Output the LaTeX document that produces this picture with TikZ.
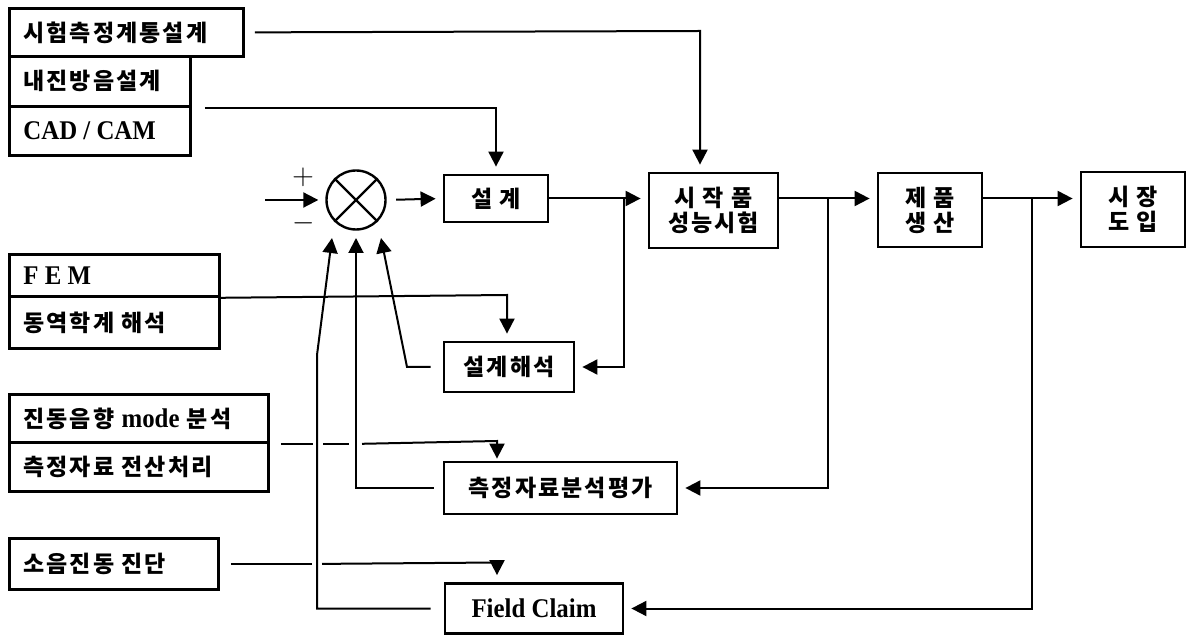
\documentclass[tikz,border=0pt]{standalone}
\usepackage{fontspec}
\setmainfont{Liberation Serif}
\newfontfamily\kr[LetterSpace=9]{Noto Sans CJK KR}
\newfontfamily\lat[FakeStretch=0.92]{Liberation Serif}
\usetikzlibrary{arrows.meta,calc}
\tikzset{
  every node/.style={inner sep=0pt},
  krfont/.style={font={\kr\bfseries\fontsize{11.5}{13.5}\selectfont}},
  lbox/.style={draw, line width=1.4pt, anchor=north west, inner xsep=7pt, krfont},
  mbox/.style={draw, line width=1.4pt, align=center, krfont},
  ln/.style={line width=1pt},
  arr/.style={line width=1pt, -{Triangle[length=7.5pt,width=7.5pt]}, shorten >=3.5pt},
  arrt/.style={line width=1pt, -{Triangle[length=7.5pt,width=7.5pt]}},
}
\newcommand{\latb}[1]{{\lat\bfseries\fontsize{13.5}{14}\selectfont #1}}
\begin{document}
\begin{tikzpicture}[x=0.5pt,y=-0.5pt]
\useasboundingbox (0,0) rectangle (1187,635);
\fill[white] (0,0) rectangle (1187,635);

% left input boxes
\node[lbox, minimum height=24pt]   (A) at (8,7)   {\makebox[103pt][l]{시험측정계통설계}};
\node[lbox, minimum height=25pt]   (B) at (8,55)  {\makebox[76.5pt][l]{내진방음설계}};
\node[lbox, minimum height=24.5pt] (C) at (8,105) {\makebox[76.5pt][l]{\latb{CAD / CAM}}};
\node[lbox, minimum height=21pt]   (F) at (8,253) {\makebox[91pt][l]{\latb{F E M}}};
\node[lbox, minimum height=26pt]   (D) at (8,295) {\makebox[91pt][l]{동역학계 해석}};
\node[lbox, minimum height=24pt]   (V) at (8,393) {\makebox[115.5pt][l]{진동음향 \latb{mode} 분석}};
\node[lbox, minimum height=24.5pt] (M) at (8,441) {\makebox[115.5pt][l]{측정자료 전산처리}};
\node[lbox, minimum height=25.5pt] (S) at (8,537) {\makebox[90.5pt][l]{소음진동 진단}};

% summing junction
\node[draw, circle, line width=1.2pt, minimum size=29.5pt] (sum) at (356,200) {};
\draw[line width=1.1pt] (sum.north west) -- (sum.south east);
\draw[line width=1.1pt] (sum.north east) -- (sum.south west);
\node[font=\fontsize{14}{14}\selectfont] (plus) at (303,177) {$+$};
\node[font=\fontsize{14}{14}\selectfont] (minus) at (304,223) {$-$};
\coordinate (in) at (265,200);

% main boxes
\node[mbox, minimum width=52pt, minimum height=23.5pt] (sg) at (496,198.5) {설 계};
\node[mbox, minimum width=64.5pt, minimum height=37.5pt] (sj) at (713.5,210.5) {시 작 품\\[-1pt]성능시험};
\node[mbox, minimum width=52pt, minimum height=37pt] (jp) at (930,210) {제 품\\[-1pt]생 산};
\node[mbox, minimum width=52pt, minimum height=37.5pt] (sd) at (1133,209.5) {시 장\\[-1pt]도 입};
\node[mbox, minimum width=65pt, minimum height=25pt] (sh) at (509,367) {설계해석};
\node[mbox, minimum width=116.5pt, minimum height=26pt] (cj) at (560.5,488) {측정자료분석평가};
\node[mbox, minimum width=89pt, minimum height=25pt] (fc) at (534,608.5) {\latb{Field Claim}};

% junction and bend coordinates
\coordinate (j1) at (624,198.5);
\coordinate (j2) at (828,198.5);
\coordinate (j3) at (1032,198.5);
\coordinate (a1) at (700,31);
\coordinate (b1) at (507,295);
\coordinate (v1) at (497,441);
\coordinate (s1) at (497,562.5);
\coordinate (k1) at (407,367);
\coordinate (k3) at (317,355);
\coordinate (tL) at (332,238);
\coordinate (tM) at (356,238);
\coordinate (tR) at (381,238);

% forward path
\draw[arr] (in) -- (sum.west);
\draw[arr, shorten <=4.75pt] (sum.east) -- (sg.west);
\draw[arr] (sg.east) -- (sg.east -| sj.west);
\draw[arr] (sj.east |- sg.east) -- (jp.west |- sg.east);
\draw[arr] (jp.east |- sg.east) -- (sd.west |- sg.east);

% feedback from main line
\draw[arr] (j1) |- (sh.east);
\draw[arr] (j2) |- (cj.east);
\draw[arr] (j3) |- (fc.east);

% feedback into summing junction
\draw[arrt, shorten <=6pt] (sh.west) -- (k1) -- (tR);
\draw[arrt, shorten <=4.5pt] (cj.west) -- (cj.west -| tM) -- (tM);
\draw[arrt, shorten <=6.5pt] (fc.west) -- (fc.west -| k3) -- (k3) -- (tL);

% inputs from left boxes
\draw[arr, shorten <=5pt] (A.east) -- (a1) -- (a1 |- sj.north);
\draw[arr, shorten <=6.5pt] (B.south east) -- (B.south east -| sg.north) -- (sg.north);
\draw[arr] (F.south east) -- (b1) -- (b1 |- sh.north);
\draw[ln, shorten <=5.5pt] (V.south east) -- ($(V.south east -| k3)+(-4,0)$);
\draw[ln] ($(V.south east -| k3)+(6,0)$) -- ($(V.south east -| tM)+(-7,0)$);
\draw[arr, shorten >=1pt] ($(V.south east -| tM)+(6,0)$) -- (v1) -- (v1 |- cj.north);
\draw[ln, shorten <=5.5pt] (S.east) -- ($(S.east -| k3)+(-5,0)$);
\draw[arr] ($(S.east -| k3)+(5,0)$) -- (s1) -- (s1 |- fc.north);
\end{tikzpicture}
\end{document}
